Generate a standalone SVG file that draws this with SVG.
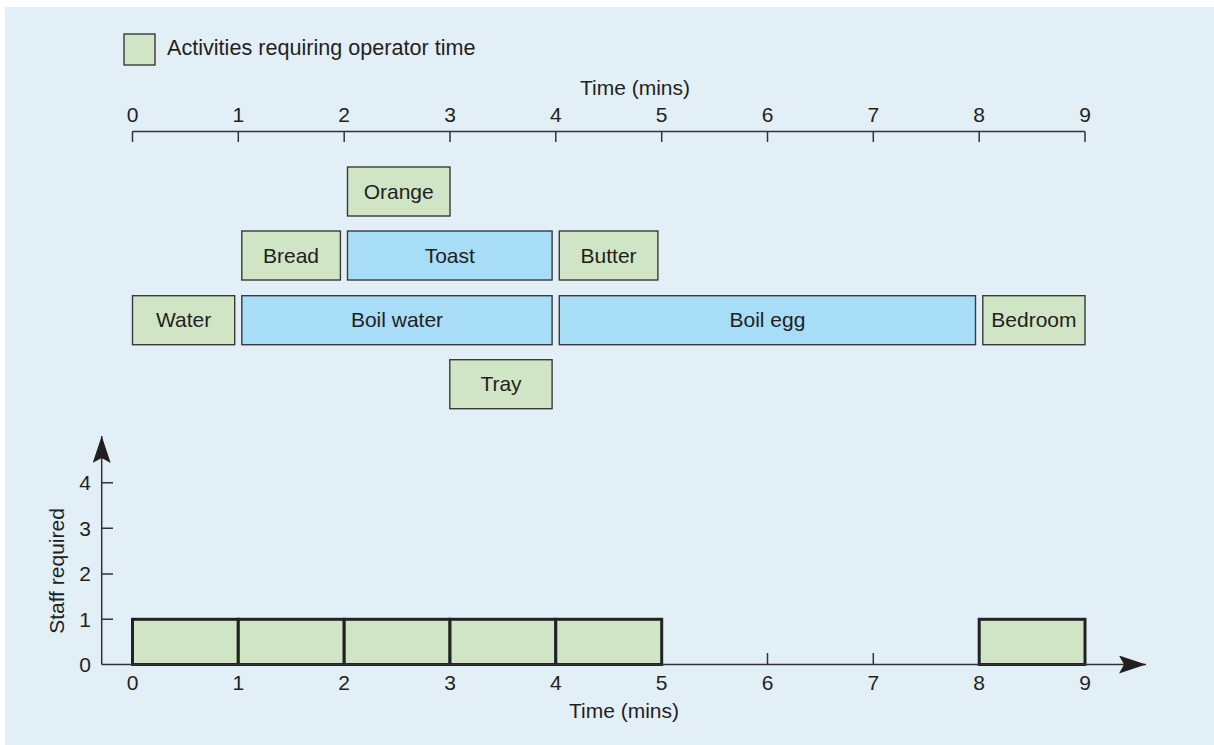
<svg xmlns="http://www.w3.org/2000/svg" width="1214" height="745" viewBox="0 0 1214 745">
<style>
text{font-family:"Liberation Sans",Arial,sans-serif;font-size:21px;fill:#231f20}
.mid{text-anchor:middle}
.g{fill:#cfe5c5;stroke:#3a3a3a;stroke-width:1.4}
.b{fill:#a8ddf8;stroke:#3a3a3a;stroke-width:1.4}
.ax{stroke:#333;stroke-width:1.5;fill:none}
.bar{fill:#cfe5c5;stroke:#222;stroke-width:3}
</style>
<defs>
<marker id="ah" markerWidth="30" markerHeight="20" refX="27" refY="9" orient="auto" markerUnits="userSpaceOnUse">
<path d="M0,0 L27,9 L0,18 L5,9 Z" fill="#231f20"/>
</marker>
</defs>
<rect x="5" y="7" width="1209" height="738" fill="#e3eff6"/>

<g id="legend">
<rect x="124" y="34" width="31" height="31" class="g"/>
<text x="167" y="55" style="font-size:21.6px">Activities requiring operator time</text>
</g>

<g id="top-axis">
<text x="635" y="95" class="mid">Time (mins)</text>
<path class="ax" d="M132.5,131.5 H1085 M132.5,131.5 V142 M238.3,131.5 V142 M344.2,131.5 V142 M450,131.5 V142 M555.8,131.5 V142 M661.7,131.5 V142 M767.5,131.5 V142 M873.3,131.5 V142 M979.2,131.5 V142 M1085,131.5 V142" stroke-width="1.3"/>
<text x="132.5" y="122" class="mid">0</text>
<text x="238.3" y="122" class="mid">1</text>
<text x="344.2" y="122" class="mid">2</text>
<text x="450" y="122" class="mid">3</text>
<text x="555.8" y="122" class="mid">4</text>
<text x="661.7" y="122" class="mid">5</text>
<text x="767.5" y="122" class="mid">6</text>
<text x="873.3" y="122" class="mid">7</text>
<text x="979.2" y="122" class="mid">8</text>
<text x="1085" y="122" class="mid">9</text>
</g>

<g id="orange"><rect x="347.5" y="167" width="102.5" height="49" class="g"/><text x="398.7" y="198.5" class="mid">Orange</text></g>
<g id="bread"><rect x="241.8" y="231" width="98.6" height="49" class="g"/><text x="291" y="262.5" class="mid">Bread</text></g>
<g id="toast"><rect x="347.5" y="231" width="204.6" height="49" class="b"/><text x="449.8" y="262.5" class="mid">Toast</text></g>
<g id="butter"><rect x="559.3" y="231" width="98.6" height="49" class="g"/><text x="608.6" y="262.5" class="mid">Butter</text></g>
<g id="water"><rect x="132.5" y="295.7" width="102.2" height="49" class="g"/><text x="183.6" y="327" class="mid">Water</text></g>
<g id="boil-water"><rect x="241.8" y="295.7" width="310.3" height="49" class="b"/><text x="397" y="327" class="mid">Boil water</text></g>
<g id="boil-egg"><rect x="559.3" y="295.7" width="416.2" height="49" class="b"/><text x="767.4" y="327" class="mid">Boil egg</text></g>
<g id="bedroom"><rect x="982.8" y="295.7" width="102.2" height="49" class="g"/><text x="1033.9" y="327" class="mid">Bedroom</text></g>
<g id="tray"><rect x="449.8" y="359.7" width="102.3" height="49" class="g"/><text x="501" y="391" class="mid">Tray</text></g>

<g id="staff-chart">
<rect x="132.5" y="619.3" width="105.8" height="45.2" class="bar"/>
<rect x="238.3" y="619.3" width="105.9" height="45.2" class="bar"/>
<rect x="344.2" y="619.3" width="105.8" height="45.2" class="bar"/>
<rect x="450" y="619.3" width="105.8" height="45.2" class="bar"/>
<rect x="555.8" y="619.3" width="105.9" height="45.2" class="bar"/>
<rect x="979.2" y="619.3" width="105.8" height="45.2" class="bar"/>
</g>

<g id="connectors">
<path class="ax" d="M101.7,664.5 V436" marker-end="url(#ah)"/>
<path class="ax" d="M101.7,664.5 H1146" marker-end="url(#ah)"/>
<path class="ax" d="M101.7,482.7 H113 M101.7,528.3 H113 M101.7,574 H113 M101.7,619.3 H113 M767.5,664.5 V653 M873.3,664.5 V653"/>
</g>

<g id="axis-labels">
<text x="85" y="490" class="mid">4</text>
<text x="85" y="535.5" class="mid">3</text>
<text x="85" y="581" class="mid">2</text>
<text x="85" y="626.5" class="mid">1</text>
<text x="85" y="672" class="mid">0</text>
<text x="64" y="571" class="mid" transform="rotate(-90 64 571)">Staff required</text>
<text x="132.5" y="690" class="mid">0</text>
<text x="238.3" y="690" class="mid">1</text>
<text x="344.2" y="690" class="mid">2</text>
<text x="450" y="690" class="mid">3</text>
<text x="555.8" y="690" class="mid">4</text>
<text x="661.7" y="690" class="mid">5</text>
<text x="767.5" y="690" class="mid">6</text>
<text x="873.3" y="690" class="mid">7</text>
<text x="979.2" y="690" class="mid">8</text>
<text x="1085" y="690" class="mid">9</text>
<text x="624" y="718" class="mid">Time (mins)</text>
</g>
</svg>
